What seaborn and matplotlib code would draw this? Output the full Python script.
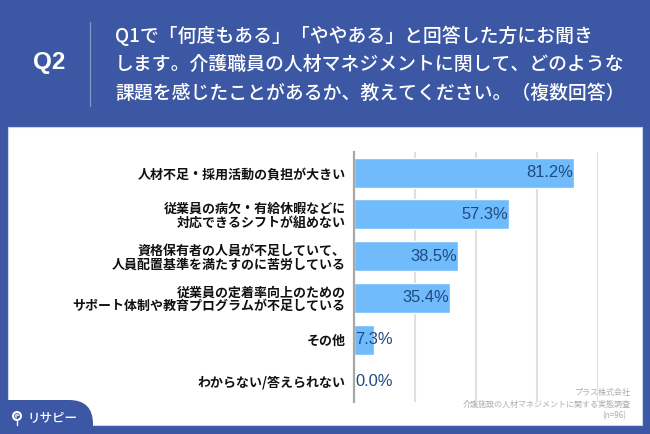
import matplotlib
matplotlib.use('Agg')
import matplotlib.pyplot as plt
from matplotlib.patches import Rectangle, FancyBboxPatch, Circle, Wedge
import pandas as pd
import seaborn as sns

sns.set_theme(style='white')
plt.rcParams['font.family'] = ['Noto Sans CJK JP', 'DejaVu Sans']

categories = [
    '人材不足・採用活動の負担が大きい',
    '従業員の病欠・有給休暇などに\n対応できるシフトが組めない',
    '資格保有者の人員が不足していて、\n人員配置基準を満たすのに苦労している',
    '従業員の定着率向上のための\nサポート体制や教育プログラムが不足している',
    'その他',
    'わからない/答えられない',
]
values = [81.2, 57.3, 38.5, 35.4, 7.3, 0.0]
grid_ticks = [0, 22.5, 45, 67.5, 90]
title_lines = [
    'Q1で「何度もある」「ややある」と回答した方にお聞き',
    'します。介護職員の人材マネジメントに関して、どのような',
    '課題を感じたことがあるか、教えてください。（複数回答）',
]
source_lines = ['プラス株式会社', '介護施設の人材マネジメントに関する実態調査', '(n=96)']

BLUE = '#3C58A4'
BAR = '#70BBFB'
VALUE = '#1F4A80'
W, H = 650, 434

fig = plt.figure(figsize=(6.5, 4.34), dpi=100, facecolor=BLUE)

# background layer in pixel coordinates
bg = fig.add_axes([0, 0, 1, 1], zorder=0)
bg.set_xlim(0, W)
bg.set_ylim(H, 0)
bg.axis('off')
bg.add_patch(Rectangle((8, 127), 634, 298, fc='white', ec='#C9D3EA', lw=0.8))
bg.add_patch(FancyBboxPatch((-30, 400), 123, 60, boxstyle='round,pad=0,rounding_size=24',
                            fc=BLUE, ec='none'))
bg.plot([90, 90], [22, 106], color='#8295C6', lw=0.9)
bg.text(49, 63, 'Q2', color='white', fontsize=17.5, fontweight='bold', ha='center', va='center',
        family=['Liberation Sans', 'DejaVu Sans'])
for y, line in zip([36, 64.5, 93], title_lines):
    bg.text(115, y, line, color='white', fontsize=13.55, fontweight='medium', ha='left', va='center')
for y, x, line in zip([392, 404, 416], [631, 631, 626], source_lines):
    bg.text(x, y, line, color='#ADADAD', fontsize=5.8, ha='right', va='center')

# logo
bg.add_patch(Circle((17, 416), 5, fc='white', ec='none'))
bg.add_patch(Circle((17, 416), 3, fc=BLUE, ec='none'))
bg.add_patch(Wedge((17, 416), 2.4, 90, 360, fc='#C8CCD8', ec='none'))
bg.plot([17, 17], [421, 425], color='white', lw=1)
bg.text(27, 418, 'リサピー', color='white', fontsize=9, fontweight='medium', ha='left', va='center')

# chart
ax = fig.add_axes([354 / W, 1 - 402 / H, (598 - 354) / W, (402 - 152) / H], zorder=1)
ax.patch.set_alpha(0)
df = pd.DataFrame({'category': categories, 'value': values})
sns.barplot(data=df, x='value', y='category', color=BAR, saturation=1, width=0.72, ax=ax, zorder=2)
ax.set_xlim(0, 90)
ax.set_xticks(grid_ticks)
ax.set_xticklabels([])
ax.set_xlabel('')
ax.set_ylabel('')
ax.tick_params(left=False, bottom=False, length=0, pad=6)
ax.xaxis.grid(True, color='#E0E0E0', lw=1.5)
ax.set_axisbelow(True)
for s in ['top', 'right', 'bottom']:
    ax.spines[s].set_visible(False)
ax.spines['left'].set_color('#A8A8A8')
ax.spines['left'].set_linewidth(1.6)
ax.spines['left'].set_zorder(5)
for lab in ax.get_yticklabels():
    lab.set_fontsize(9.35)
    lab.set_fontweight('bold')
    lab.set_color('#111111')
    lab.set_linespacing(0.98)

for i, v in enumerate(values):
    # short bars get their label starting at the axis, long ones end inside the bar
    if v > 20:
        ax.text(v - 0.4, i, f'{v:.1f}%', ha='right', va='center', color=VALUE, fontsize=11.9,
                family=['Liberation Sans', 'DejaVu Sans'], zorder=6)
    else:
        ax.text(0.5, i, f'{v:.1f}%', ha='left', va='center', color=VALUE, fontsize=11.9,
                family=['Liberation Sans', 'DejaVu Sans'], zorder=6)

fig.savefig('out.png', dpi=100, facecolor=BLUE)
